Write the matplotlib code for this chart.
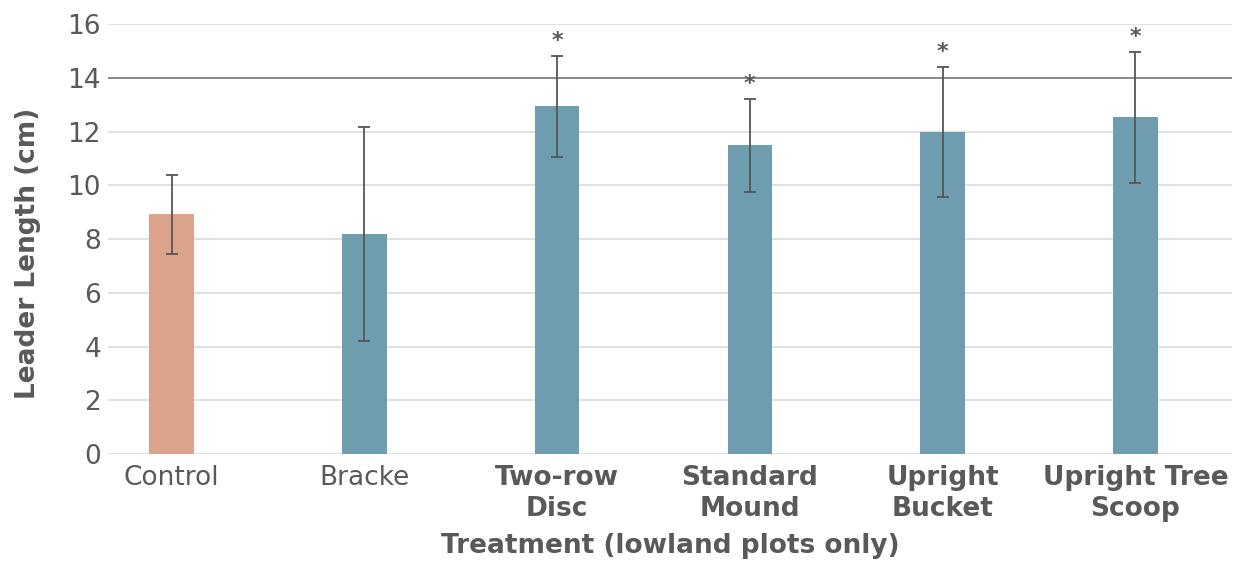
import matplotlib.pyplot as plt
import numpy as np

plt.rcParams['font.family'] = ['DejaVu Sans']

treatments = ["Control", "Bracke", "Two-row\nDisc", "Standard\nMound", "Upright\nBucket", "Upright Tree\nScoop"]
means = [8.92, 8.18, 12.94, 11.49, 11.97, 12.53]
errors = [1.47, 3.98, 1.88, 1.72, 2.42, 2.43]
significant = [False, False, True, True, True, True]
bar_colors = ["#DBA48A", "#6E9DB0", "#6E9DB0", "#6E9DB0", "#6E9DB0", "#6E9DB0"]

text_gray = "#595959"

fig = plt.figure(figsize=(12.38, 5.63), dpi=100)
ax = fig.add_axes([0.0872, 0.1936, 0.9078, 0.7634])

x = np.arange(len(treatments))
ax.bar(x, means, width=0.23, color=bar_colors, zorder=2)
ax.errorbar(x, means, yerr=errors, fmt="none", ecolor="#555555", elinewidth=1.3,
            capsize=4, capthick=1.3, zorder=3)

# significance markers above error bars
for xi, m, e, sig in zip(x, means, errors, significant):
    if sig:
        ax.text(xi, m + e + 0.2, "*", ha="center", va="bottom", fontsize=16,
                color=text_gray, fontweight="bold")

ax.set_ylim(0, 16)
ax.set_xlim(-0.33, 5.5)
ax.set_yticks(range(0, 17, 2))
for yv in range(0, 17, 2):
    c = "#7f7f7f" if yv == 14 else "#dedede"
    ax.axhline(yv, color=c, lw=1.3, zorder=1)

for s in ax.spines.values():
    s.set_visible(False)
ax.tick_params(axis="both", length=0, labelsize=19, labelcolor=text_gray)
ax.tick_params(axis="y", pad=5)
ax.tick_params(axis="x", pad=8)
ax.set_xticks(x)
ax.set_xticklabels(treatments, linespacing=1.25)
for lbl, sig in zip(ax.get_xticklabels(), significant):
    if sig:
        lbl.set_fontweight("bold")

ax.set_ylabel("Leader Length (cm)", fontsize=19, fontweight="bold", color=text_gray)
ax.yaxis.set_label_coords(-0.06, 0.467)
ax.set_xlabel("Treatment (lowland plots only)", fontsize=19, fontweight="bold", color=text_gray, labelpad=8)

fig.savefig("out.png", dpi=100)
